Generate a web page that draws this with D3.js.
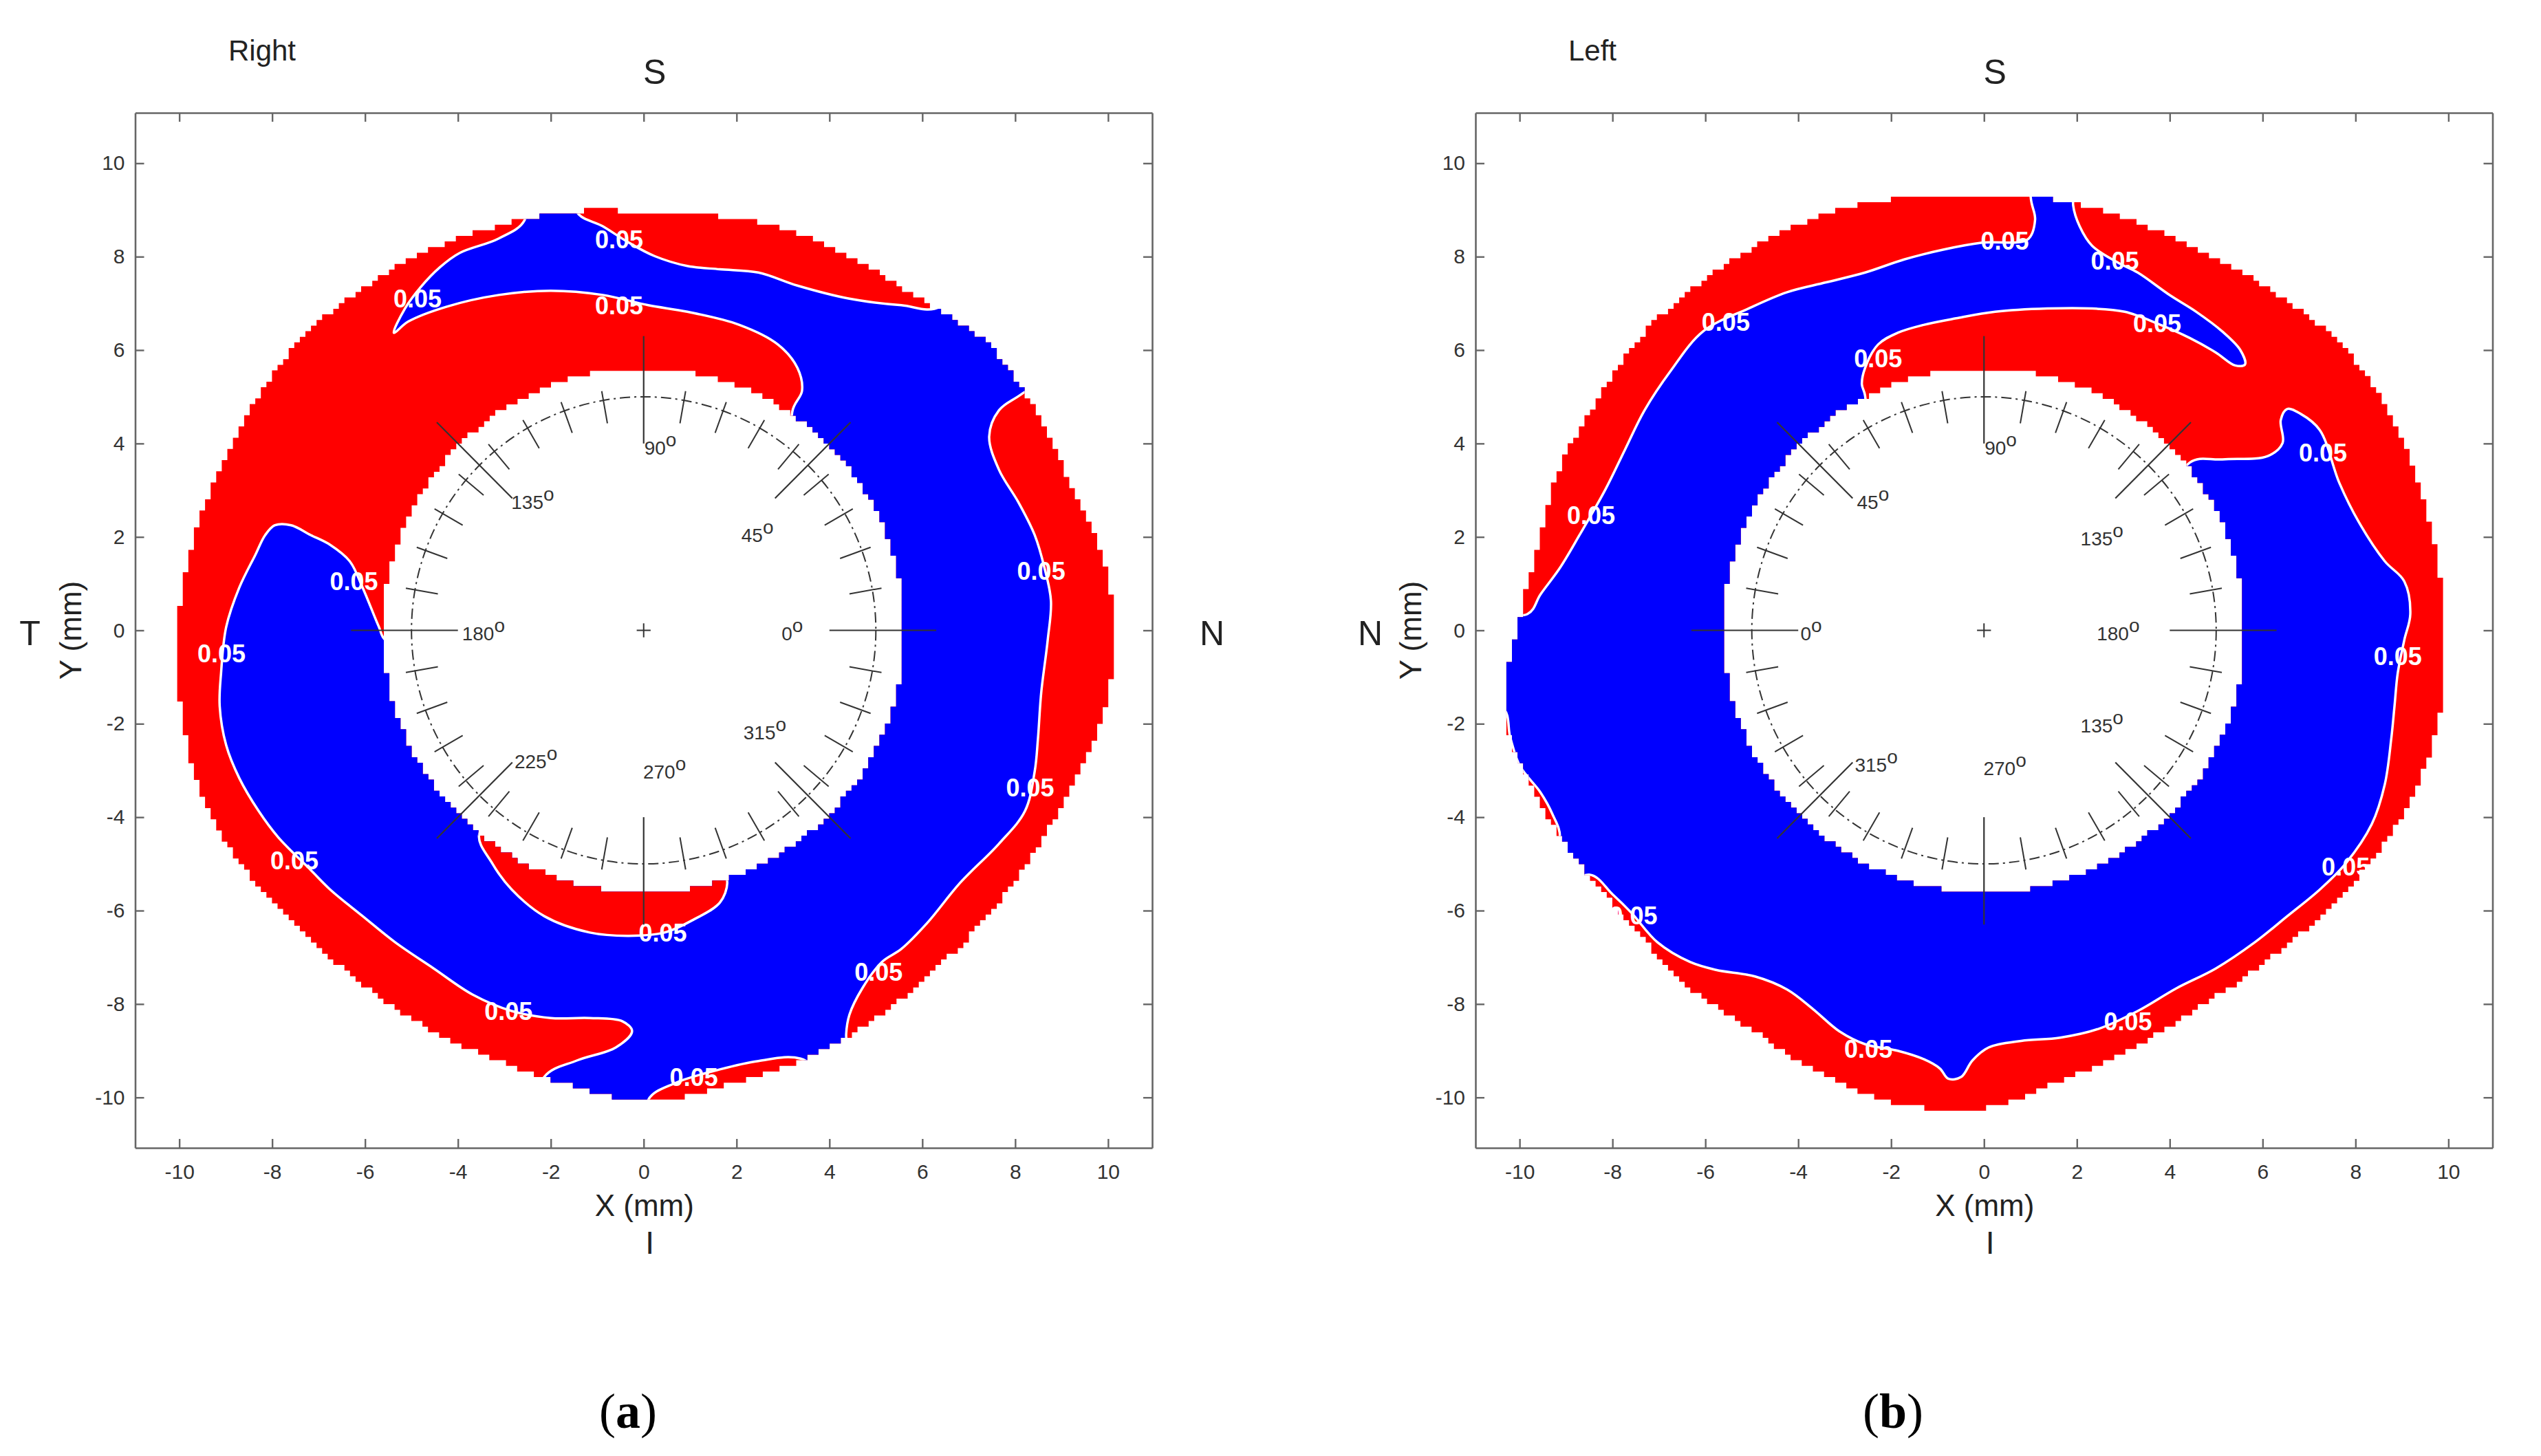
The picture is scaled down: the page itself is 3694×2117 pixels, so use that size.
<!DOCTYPE html>
<html><head><meta charset="utf-8">
<script src="https://cdn.jsdelivr.net/npm/d3@7"></script>
<style>body{margin:0;background:#fff}</style>
</head><body>
<svg id="c" width="3694" height="2117" xmlns="http://www.w3.org/2000/svg"></svg>
<script>
// ---------------- DATA ----------------
const xTicks = [-10,-8,-6,-4,-2,0,2,4,6,8,10];
const yTicks = [-10,-8,-6,-4,-2,0,2,4,6,8,10];
const outerAngles = d3.range(0, 360, 10);   // degrees
const innerRadius = 5.62;                     // mm, blank central zone
const contourLevel = "0.05";

// Panel (a) – Right eye: outer radius (mm) of the measured zone at outerAngles
const rightEyeOuterR = [10.13,9.97,9.69,9.65,9.6,9.25,9.15,9.12,9.0,8.96,9.1,9.2,9.35,9.5,9.65,9.7,9.75,9.9,
  10.03,10.1,10.15,10.0,9.8,9.7,9.7,9.72,9.85,10.08,9.9,9.8,9.7,9.6,9.6,9.65,9.8,10.05];
// blue region (p < 0.05 contour) [x mm, y mm]
const rightEyeBlue = [
 [-5.38,6.37],[-5.07,6.61],[-4.24,6.93],[-3.12,7.18],[-2.00,7.27],[-0.88,7.18],[0.10,6.96],[0.94,6.82],[2.06,6.54],[2.89,6.12],[3.31,5.62],[3.41,5.13],[3.20,4.68],
 [3.46,2.0],[4.0,0],[2.83,-2.83],[0,-4],[-2.83,-2.83],[-3.94,-0.69],
 [-5.56,-0.21],[-5.70,0.07],[-6.05,0.91],[-6.33,1.48],[-6.75,1.83],[-7.17,2.04],[-7.59,2.25],[-7.94,2.25],[-8.15,2.04],[-8.36,1.62],[-8.71,0.91],[-8.99,0.07],[-9.10,-0.91],[-9.13,-1.62],[-8.99,-2.46],[-8.71,-3.16],[-8.29,-3.87],[-7.87,-4.43],[-7.17,-5.13],[-6.75,-5.55],[-6.05,-6.12],[-5.35,-6.68],[-4.52,-7.24],[-3.68,-7.80],[-2.84,-8.15],[-2.00,-8.30],[-1.16,-8.30],[-0.46,-8.37],[-0.25,-8.58],[-0.60,-8.93],[-1.44,-9.21],[-2.14,-9.56],
 [-2.5,-11.0],[0.1,-11.2],
 [0.10,-10.05],[0.66,-9.70],[1.64,-9.40],[2.47,-9.22],[3.38,-9.17],
 [4.44,-9.9],
 [4.36,-8.65],[4.43,-8.23],[4.71,-7.66],[5.13,-7.10],[5.55,-6.82],[6.11,-6.26],[6.81,-5.41],[7.65,-4.57],[8.21,-3.87],[8.42,-3.02],[8.49,-2.32],[8.56,-1.34],[8.70,-0.21],[8.77,0.63],[8.63,1.34],[8.42,2.04],[8.07,2.74],[7.65,3.44],[7.44,4.15],[7.65,4.71],[8.14,5.06],
 [10.3,6.6],[8.2,9.4],
 [6.39,6.93],[5.55,6.96],[4.43,7.10],[3.31,7.38],[2.47,7.66],[1.64,7.73],[0.94,7.80],[0.24,8.01],[-0.32,8.30],[-0.88,8.65],[-1.44,8.96],
 [-1.5,10.2],[-2.6,10.0],
 [-2.56,8.79],[-3.12,8.39],[-3.96,8.08],[-4.38,7.78],[-4.80,7.35],[-5.14,6.89]
];
// red island inside the blue band (below the centre)
const rightEyeRedPatch = [[-3.54,-4.36],[-3.26,-4.99],[-2.84,-5.55],[-2.14,-6.12],[-1.16,-6.47],[-0.32,-6.54],[0.45,-6.47],[1.08,-6.19],[1.64,-5.83],[1.80,-5.41],[1.71,-5.13],[1.0,-4.0],[-2.5,-3.5]];
const rightEyeLabels = [[-0.53,8.37],[-4.87,7.10],[-0.53,6.96],[8.56,1.27],[-6.24,1.05],[-9.09,-0.49],[8.32,-3.37],[-7.52,-4.92],[0.41,-6.47],[5.06,-7.31],[-2.91,-8.15],[1.08,-9.56]];
const rightEyeDegLabels = [["90",0.36,3.91],["45",2.45,2.04],["0",3.2,-0.07],["180",-3.45,-0.07],["135",-2.39,2.74],["225",-2.32,-2.81],["270",0.45,-3.02],["315",2.61,-2.18]];

// Panel (b) – Left eye
const leftEyeOuterR = [9.91,9.87,9.86,9.9,9.78,9.53,9.37,9.32,9.35,9.25,9.4,9.52,9.57,9.62,9.7,9.68,9.77,9.78,
  10.05,10.48,10.27,10.02,9.87,9.93,9.9,10.12,10.3,10.22,9.77,9.48,9.3,9.33,9.48,9.7,9.9,9.97];
const leftEyeBlue = [
 [-9.83,0.35],[-9.55,0.77],[-9.13,1.34],[-8.71,2.04],[-8.15,3.02],[-7.73,3.87],[-7.31,4.71],[-6.75,5.55],[-6.05,6.40],[-5.07,6.89],[-4.24,7.24],[-3.40,7.45],[-2.56,7.66],[-1.72,7.94],[-0.88,8.15],[-0.04,8.30],[0.94,8.37],[1.10,8.79],[1.01,9.24],
 [1.0,10.5],[2.0,10.5],
 [1.92,9.10],[2.06,8.65],[2.33,8.23],[2.89,7.87],[3.31,7.66],[4.01,7.17],[4.57,6.82],[5.13,6.40],[5.52,6.00],[5.62,5.69],[5.41,5.67],[4.99,5.95],[4.43,6.26],[3.73,6.57],[3.03,6.82],[2.33,6.89],[1.36,6.89],[0.24,6.82],[-0.60,6.68],[-1.30,6.54],[-1.86,6.37],[-2.28,6.12],[-2.56,5.62],[-2.63,5.27],[-2.56,5.02],
 [-2.57,3.06],[-4,0],[-2.57,-3.06],[0,-4],[2.57,-3.06],[3.94,-0.69],[3.63,1.69],
 [4.43,3.59],[5.13,3.66],[6.11,3.73],[6.43,4.01],[6.39,4.50],[6.53,4.74],[6.81,4.64],[7.23,4.29],[7.65,3.16],[8.07,2.32],[8.63,1.48],[9.05,1.05],[9.18,0.35],[9.05,-0.21],[8.91,-0.91],[8.84,-1.62],[8.77,-2.32],[8.63,-3.30],[8.35,-4.15],[7.79,-4.99],[7.23,-5.55],[6.53,-6.12],[5.83,-6.68],[4.99,-7.24],[4.15,-7.66],[3.31,-8.15],[2.47,-8.53],[1.64,-8.72],[0.80,-8.79],[0.10,-8.93],[-0.25,-9.21],[-0.49,-9.56],[-0.77,-9.60],[-0.95,-9.38],[-1.30,-9.18],[-1.86,-9.00],[-2.56,-8.86],[-3.12,-8.58],[-3.68,-8.11],[-4.24,-7.69],[-4.93,-7.41],[-5.77,-7.27],[-6.33,-7.10],[-7.03,-6.68],[-7.59,-6.05],[-8.0,-5.65],[-8.5,-5.23],
 [-9.7,-5.9],
 [-9.13,-4.45],[-9.30,-3.92],[-9.55,-3.47],[-9.99,-2.91],[-10.2,-2.3],[-10.36,-1.67],
 [-11.6,-1.8],[-11.6,0.4]
];
const leftEyeLabels = [[0.45,8.34],[2.82,7.92],[-5.56,6.61],[3.73,6.57],[-2.28,5.83],[-8.46,2.46],[7.30,3.80],[8.91,-0.56],[7.79,-5.06],[3.10,-8.37],[-2.49,-8.96],[-7.55,-6.1]];
const leftEyeDegLabels = [["90",0.36,3.91],["45",-2.39,2.74],["0",-3.72,-0.07],["180",2.89,-0.07],["135",2.54,1.97],["135",2.54,-2.04],["315",-2.32,-2.88],["270",0.45,-2.95]];

// ---------------- DRAWING ----------------
const svg = d3.select("#c");
const FONT = "'Liberation Sans', Arial, sans-serif";
const RED = "#ff0000", BLUE = "#0000ff";

const panels = [
  {id:"a", xr:[196.5,1675], title:"Right", titleX:381, outer:rightEyeOuterR, blue:rightEyeBlue, reds:[rightEyeRedPatch],
   labels:rightEyeLabels, deg:rightEyeDegLabels, sideL:"T", sideR:"N", letter:"a", letterX:913},
  {id:"b", xr:[2145,3623.5], title:"Left", titleX:2315, outer:leftEyeOuterR, blue:leftEyeBlue, reds:[],
   labels:leftEyeLabels, deg:leftEyeDegLabels, sideL:"N", sideR:null, letter:"b", letterX:2752}
];

function rAt(arr, th) {
  const n = arr.length, s = 360 / n, f = th / s, i = Math.floor(f), t = f - i;
  const p0 = arr[(i - 1 + n) % n], p1 = arr[i % n], p2 = arr[(i + 1) % n], p3 = arr[(i + 2) % n];
  return 0.5 * (2 * p1 + (-p0 + p2) * t + (2 * p0 - 5 * p1 + 4 * p2 - p3) * t * t + (-p0 + 3 * p1 - 3 * p2 + p3) * t * t * t);
}

panels.forEach(P => {
  const x = d3.scaleLinear().domain([-10.95, 10.95]).range(P.xr);
  const y = d3.scaleLinear().domain([-11.08, 11.08]).range([1669, 164]);
  const g = svg.append("g");
  const cx = x(0);

  // mask of measured cells (gridded data area)
  const c = 0.12, N = Math.round(22 / c);
  let d = "";
  for (let j = 0; j < N; j++) {
    const yy = -11 + j * c, ym = yy + c / 2;
    let start = -1;
    for (let i = 0; i <= N; i++) {
      let inside = false;
      if (i < N) {
        const xm = -11 + i * c + c / 2;
        const r = Math.hypot(xm, ym);
        let th = Math.atan2(ym, xm) * 180 / Math.PI; if (th < 0) th += 360;
        inside = r > innerRadius && r < rAt(P.outer, th);
      }
      if (inside && start < 0) start = i;
      if (!inside && start >= 0) {
        const x0 = x(-11 + start * c) - 0.3, x1 = x(-11 + i * c) + 0.3;
        const y0 = y(yy + c) - 0.3, y1 = y(yy) + 0.3;
        d += `M${x0.toFixed(1)},${y0.toFixed(1)}H${x1.toFixed(1)}V${y1.toFixed(1)}H${x0.toFixed(1)}Z`;
        start = -1;
      }
    }
  }
  svg.append("defs").append("clipPath").attr("id", "mask" + P.id).append("path").attr("d", d);

  const line = d3.line().x(p => x(p[0])).y(p => y(p[1])).curve(d3.curveCatmullRomClosed.alpha(0.5));
  const map = g.append("g").attr("clip-path", `url(#mask${P.id})`);
  map.append("rect").attr("x", x(-11)).attr("y", y(11)).attr("width", x(11) - x(-11)).attr("height", y(-11) - y(11)).attr("fill", RED);
  map.append("path").attr("d", line(P.blue)).attr("fill", BLUE).attr("stroke", "#fff").attr("stroke-width", 3.5);
  P.reds.forEach(rp => map.append("path").attr("d", line(rp)).attr("fill", RED).attr("stroke", "#fff").attr("stroke-width", 3.5));

  // contour labels
  g.selectAll(null).data(P.labels).join("text")
    .attr("x", p => x(p[0])).attr("y", p => y(p[1])).attr("dy", "0.36em")
    .attr("text-anchor", "middle").attr("font-family", FONT).attr("font-weight", "bold")
    .attr("font-size", 36).attr("fill", "#fff").text(contourLevel);

  // polar reference overlay
  const ov = g.append("g").attr("stroke", "#333").attr("fill", "none");
  const rx = x(5) - x(0), ry = y(0) - y(5);
  ov.append("ellipse").attr("cx", cx).attr("cy", y(0)).attr("rx", rx).attr("ry", ry)
    .attr("stroke-width", 2).attr("stroke-dasharray", "15,6,3,6");
  const rad = a => a * Math.PI / 180;
  d3.range(0, 360, 10).filter(a => a % 90 !== 0).forEach(a => {
    ov.append("line").attr("x1", x(4.5 * Math.cos(rad(a)))).attr("y1", y(4.5 * Math.sin(rad(a))))
      .attr("x2", x(5.2 * Math.cos(rad(a)))).attr("y2", y(5.2 * Math.sin(rad(a)))).attr("stroke-width", 2);
  });
  d3.range(0, 360, 45).forEach(a => {
    ov.append("line").attr("x1", x(4.0 * Math.cos(rad(a)))).attr("y1", y(4.0 * Math.sin(rad(a))))
      .attr("x2", x(6.3 * Math.cos(rad(a)))).attr("y2", y(6.3 * Math.sin(rad(a)))).attr("stroke-width", 2.2);
  });
  ov.append("line").attr("x1", x(-0.15)).attr("x2", x(0.15)).attr("y1", y(0)).attr("y2", y(0)).attr("stroke-width", 2);
  ov.append("line").attr("x1", cx).attr("x2", cx).attr("y1", y(-0.15)).attr("y2", y(0.15)).attr("stroke-width", 2);
  P.deg.forEach(dl => {
    const t = g.append("text").attr("x", x(dl[1])).attr("y", y(dl[2])).attr("dy", "0.36em")
      .attr("text-anchor", "middle").attr("font-family", FONT).attr("font-size", 28).attr("fill", "#333");
    t.append("tspan").text(dl[0]);
    t.append("tspan").attr("dy", -12).text("o");
  });

  // axes (box with inward ticks)
  const fmt = v => String(v);
  const ax = [
    g.append("g").attr("transform", `translate(0,${y(-11.08)})`).call(d3.axisBottom(x).tickValues(xTicks).tickFormat(fmt).tickSize(-13).tickSizeOuter(0).tickPadding(24)),
    g.append("g").attr("transform", `translate(${x(-10.95)},0)`).call(d3.axisLeft(y).tickValues(yTicks).tickFormat(fmt).tickSize(-13).tickSizeOuter(0).tickPadding(15)),
    g.append("g").attr("transform", `translate(0,${y(11.08)})`).call(d3.axisTop(x).tickValues(xTicks).tickFormat("").tickSize(-13).tickSizeOuter(0)),
    g.append("g").attr("transform", `translate(${x(10.95)},0)`).call(d3.axisRight(y).tickValues(yTicks).tickFormat("").tickSize(-13).tickSizeOuter(0))
  ];
  ax.forEach(a => {
    a.attr("font-family", FONT).attr("font-size", 30);
    a.selectAll("path.domain").attr("stroke", "#666").attr("stroke-width", 2.6);
    a.selectAll(".tick line").attr("stroke", "#666").attr("stroke-width", 2.4);
    a.selectAll(".tick text").attr("fill", "#333");
  });

  // titles & orientation letters
  const txt = (s, tx, ty, size, extra) => {
    const t = g.append("text").attr("x", tx).attr("y", ty).attr("text-anchor", "middle")
      .attr("font-family", FONT).attr("font-size", size).attr("fill", "#222").text(s);
    if (extra) extra(t);
    return t;
  };
  txt(P.title, P.titleX, 88, 42);
  txt("S", cx + 16, 121.7, 50);
  txt("I", cx + 9, 1823, 46);
  txt("X (mm)", cx + 1, 1768, 44);
  g.append("text").attr("transform", `translate(${x(-10.95) - 79},${y(0)}) rotate(-90)`)
    .attr("text-anchor", "middle").attr("font-family", FONT).attr("font-size", 44).attr("fill", "#222").text("Y (mm)");
  txt(P.sideL, x(-10.95) - 153, 938, 50);
  if (P.sideR) txt(P.sideR, x(10.95) + 87, 938, 50);
  const L = g.append("text").attr("x", P.letterX).attr("y", 2076).attr("text-anchor", "middle")
    .attr("font-family", "'Liberation Serif', 'Times New Roman', serif").attr("font-size", 72).attr("fill", "#000");
  L.append("tspan").text("(");
  L.append("tspan").attr("font-weight", "bold").text(P.letter);
  L.append("tspan").text(")");
});
</script>
</body></html>
